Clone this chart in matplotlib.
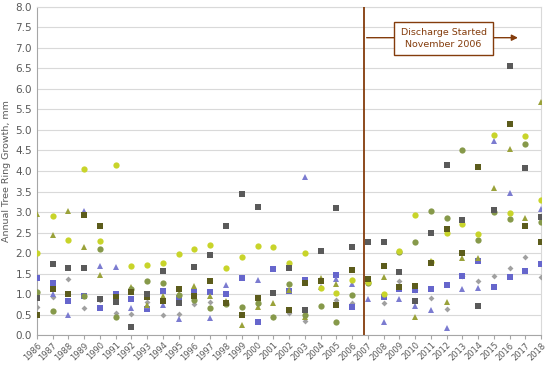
import numpy as np
import matplotlib
matplotlib.use("Agg")
import matplotlib.pyplot as plt
from matplotlib.patches import Rectangle

nan = np.nan
years = [str(y) for y in range(1986, 2019)]

# one list per tree / marker style
gray_sq = [0.9, 1.74, 1.63, 1.64, 0.87, 0.8, 0.2, 1.0, 1.55, 0.77, 1.67, 1.94, 2.65, 3.43, 3.13, 1.02, 1.64,
           0.62, 2.06, 3.11, 2.15, 2.28, 2.27, 1.54, 0.84, 2.48, 4.15, 2.8, 0.72, 3.05, 6.56, 4.08, 2.89]
olive_sq = [0.5, 1.12, 1.0, 2.92, 2.65, 0.93, 1.06, 0.93, 0.84, 1.13, 0.95, 1.32, 0.79, 0.5, 0.91, nan, 0.62,
            1.28, 1.32, 0.73, 1.59, 1.37, 1.69, 1.18, 1.2, 1.76, 2.59, 2.01, 4.09, nan, 5.15, 2.67, 2.28]
yellow_ci = [2.0, 2.9, 2.33, 4.05, 2.29, 4.14, 1.69, 1.71, 1.75, 1.98, 2.09, 2.2, 1.64, 1.9, 2.17, 2.15, 1.75,
             1.99, 1.14, 1.02, 1.35, 1.3, 1.01, 2.05, 2.93, 1.78, 2.5, 2.72, 2.46, 4.88, 2.97, 4.85, 3.29]
green_ci = [1.06, 0.58, nan, 0.96, 2.09, 0.45, 1.13, 1.33, 1.28, 0.98, 0.85, 0.66, 0.75, 0.69, 0.77, 0.43, 1.24,
            0.49, 0.71, 0.33, 0.98, 1.28, nan, 2.02, 2.27, 3.02, 2.85, 4.51, 2.31, 2.99, 2.84, 4.66, 2.76]
olive_tri = [2.94, 2.43, 3.02, 2.15, 1.46, nan, 1.18, 0.74, 0.95, 1.0, 1.19, 0.96, 0.82, 0.24, 0.69, 0.77, 1.1,
             0.45, 1.4, 1.24, nan, 1.32, 1.42, nan, 0.44, 1.8, 0.81, 1.89, 1.89, 3.58, 4.54, 2.85, 5.68]
blue_tri = [nan, 1.0, 0.48, 3.03, 1.68, 1.67, 0.67, 0.72, 0.73, 0.38, nan, 0.41, 1.21, nan, 1.34, nan, nan,
            3.86, 1.18, 1.37, 1.24, 0.88, 0.33, 0.88, 0.71, 0.6, 0.17, 1.13, 1.15, 4.74, 3.46, nan, 3.07]
blue_sq = [1.39, 1.27, 0.83, 0.95, 0.66, 1.0, 0.88, 0.63, 1.08, 0.9, 1.04, 1.04, 0.99, 1.4, 0.32, 1.62, 1.08,
           1.34, nan, 1.46, 0.69, nan, 0.93, 1.12, 1.11, 1.12, 1.21, 1.44, 1.8, 1.18, 1.41, 1.57, 1.73]
gray_di = [0.69, 0.93, 1.36, 0.66, 0.85, 0.53, 0.52, 0.81, 0.48, 0.51, 0.76, 0.81, 0.8, nan, 0.75, 0.45, 0.53,
           0.35, nan, 0.85, 0.79, nan, 0.79, 1.31, 1.1, 0.9, 0.63, 1.44, 1.32, 1.45, 1.63, 1.9, 1.42]

x = np.arange(len(years))
brown = "#843c0c"

fig = plt.figure(figsize=(5.5, 3.65), dpi=100)
ax = fig.add_axes([0.067, 0.082, 0.917, 0.899])

series = [
    (gray_di, "D", "#a0a0a0", 3.0),
    (blue_sq, "s", "#6666cc", 4.3),
    (blue_tri, "^", "#7b7bd0", 4.3),
    (olive_tri, "^", "#9aa23a", 4.3),
    (green_ci, "o", "#86994a", 4.5),
    (yellow_ci, "o", "#c8d42a", 4.5),
    (olive_sq, "s", "#5c5c1c", 4.3),
    (gray_sq, "s", "#5a5a5a", 4.3),
]
for vals, m, c, ms in series:
    ax.plot(x, vals, linestyle="none", marker=m, color=c, markersize=ms,
            markeredgewidth=0, zorder=3)

ax.set_xlim(0, len(years) - 1)
ax.set_ylim(0, 8)
ax.set_yticks(np.arange(0, 8.01, 0.5))
ax.set_yticklabels([f"{v:.1f}" for v in np.arange(0, 8.01, 0.5)])
ax.set_xticks(x)
ax.set_xticklabels(years, rotation=45, ha="right", rotation_mode="anchor")
ax.tick_params(axis="x", labelsize=6.0, colors="#595959", length=3, pad=1, color="#a6a6a6")
ax.tick_params(axis="y", labelsize=7.5, colors="#595959", length=0)
ax.grid(axis="y", color="#d9d9d9", linewidth=0.8, zorder=0)
for s in ["top", "right"]:
    ax.spines[s].set_color("#d9d9d9")
for s in ["left", "bottom"]:
    ax.spines[s].set_color("#a6a6a6")
ax.set_ylabel("Annual Tree Ring Growth, mm", fontsize=6.8, color="#595959", labelpad=3)

# discharge start marker
start = 20.75
ax.axvline(start, color=brown, linewidth=1.3, zorder=4)
ax.annotate("", xy=(30.7, 7.25), xytext=(start, 7.25),
            arrowprops=dict(arrowstyle="-|>", color=brown, lw=1.0, mutation_scale=9), zorder=4)
ax.add_patch(Rectangle((22.67, 6.83), 6.28, 0.8, facecolor="white", edgecolor=brown,
                       linewidth=1.0, zorder=5))
ax.text(25.81, 7.23, "Discharge Started\nNovember 2006", ha="center", va="center",
        fontsize=6.8, color=brown, zorder=6, linespacing=1.3)

fig.savefig("out.png", dpi=100)
